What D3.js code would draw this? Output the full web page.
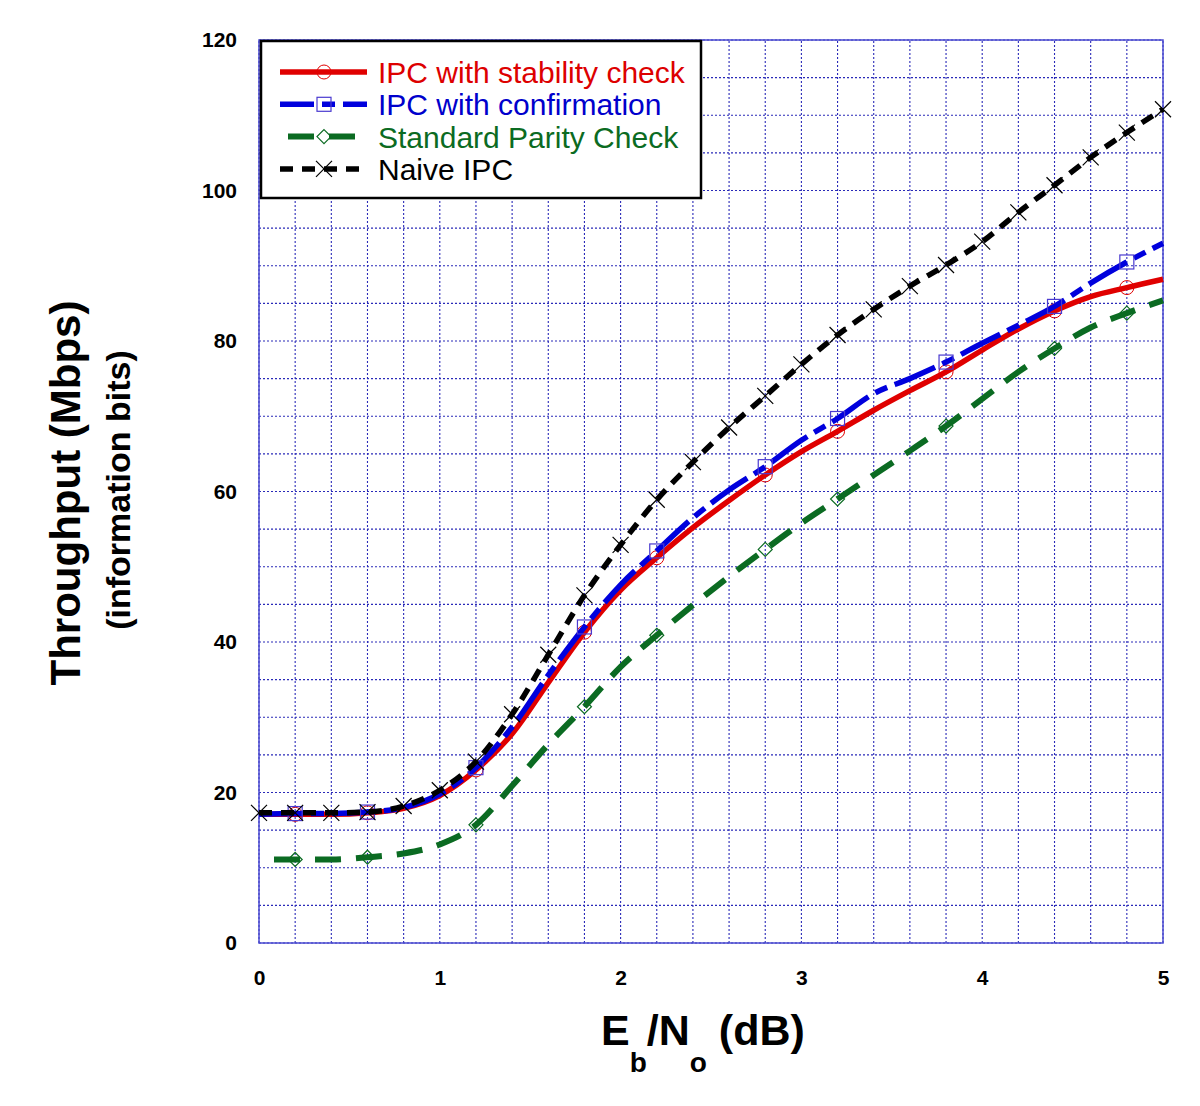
<!DOCTYPE html>
<html><head><meta charset="utf-8">
<script src="https://cdn.jsdelivr.net/npm/d3@7"></script>
<style>body{margin:0;background:#fff}svg{display:block}text{font-family:Arial,"Liberation Sans",sans-serif}</style>
</head><body>
<svg id="c" width="1200" height="1106"></svg>
<script>
const xValues = [0,0.2,0.4,0.6,0.8,1.0,1.2,1.4,1.6,1.8,2.0,2.2,2.4,2.6,2.8,3.0,3.2,3.4,3.6,3.8,4.0,4.2,4.4,4.6,4.8,5.0];
const stabilityCheck = [17.1,17.1,17.1,17.3,17.9,19.6,23.0,27.8,34.6,41.3,46.9,51.2,55.2,58.8,62.2,65.3,68.0,70.8,73.4,75.9,78.8,81.6,84.0,85.9,87.1,88.2];
const confirmation   = [17.1,17.2,17.2,17.4,18.0,19.8,23.3,28.7,35.6,42.0,47.6,52.1,56.5,60.2,63.3,66.8,69.7,73.0,75.0,77.2,79.7,82.1,84.6,87.7,90.5,93.0];
const standardParity = [11.1,11.1,11.1,11.4,11.9,13.1,15.7,20.9,26.4,31.4,36.7,40.9,44.9,48.7,52.3,55.8,59.0,62.2,65.4,68.7,72.3,75.9,79.0,81.8,83.7,85.4];
const naiveIPC       = [17.3,17.3,17.3,17.4,18.2,20.3,24.1,30.4,38.3,46.2,52.9,58.9,63.9,68.5,72.7,76.9,80.8,84.2,87.3,90.1,93.2,97.1,100.7,104.4,107.7,110.8];
const markerIdx = [1,3,6,9,11,14,16,19,22,24];
const allIdx = xValues.map((d,i)=>i);
const seriesNames = ["IPC with stability check","IPC with confirmation","Standard Parity Check","Naive IPC"];
const xTicks = [0,1,2,3,4,5];
const yTicks = [0,20,40,60,80,100,120];

const svg = d3.select("#c");
const x = d3.scaleLinear([0,5],[259,1163]);
const y = d3.scaleLinear([0,120],[943,40]);

// grid
const gridColor = "#2a2ab8";
svg.append("g").selectAll("line").data(d3.range(0,26)).join("line")
  .attr("x1",i=>x(i*0.2)).attr("x2",i=>x(i*0.2)).attr("y1",y(0)).attr("y2",y(120))
  .attr("stroke",gridColor).attr("stroke-width",1.1).attr("stroke-dasharray","2,2");
svg.append("g").selectAll("line").data(d3.range(0,25)).join("line")
  .attr("y1",i=>y(i*5)).attr("y2",i=>y(i*5)).attr("x1",x(0)).attr("x2",x(5))
  .attr("stroke",gridColor).attr("stroke-width",1.1).attr("stroke-dasharray","2,2");
// frame
svg.append("rect").attr("x",x(0)).attr("y",y(120)).attr("width",x(5)-x(0)).attr("height",y(0)-y(120))
  .attr("fill","none").attr("stroke","#4a4ad0").attr("stroke-width",1.5);

// axes
const ya = svg.append("g").attr("transform",`translate(${x(0)},0)`)
  .call(d3.axisLeft(y).tickValues(yTicks).tickFormat(d3.format("d")).tickSize(0).tickPadding(22));
const xa = svg.append("g").attr("transform",`translate(0,${y(0)})`)
  .call(d3.axisBottom(x).tickValues(xTicks).tickFormat(d3.format("d")).tickSize(0).tickPadding(27));
[ya,xa].forEach(a=>{a.select(".domain").remove();a.selectAll("text").attr("font-size",21).attr("font-weight","bold").attr("fill","#000").style("font-family","Arial, 'Liberation Sans', sans-serif");});

// series
const series = [
  {name:seriesNames[2], vals:standardParity, color:"#0b6b22", width:6, dash:"26,15", offset:26, marker:"diamond", mcolor:"#0b6b22", idx:markerIdx},
  {name:seriesNames[0], vals:stabilityCheck, color:"#e00000", width:5.5, dash:null, marker:"circle", mcolor:"#e00000", idx:markerIdx},
  {name:seriesNames[1], vals:confirmation, color:"#0000dd", width:5.5, dash:"44,8,13,8", offset:0, marker:"square", mcolor:"#4a3ad0", idx:markerIdx},
  {name:seriesNames[3], vals:naiveIPC, color:"#000000", width:5.5, dash:"13,9", offset:0, marker:"x", mcolor:"#000", idx:allIdx}
];
const line = d3.line().x((d,i)=>x(xValues[i])).y(d=>y(d)).curve(d3.curveMonotoneX);

function drawMarker(g, type, cx, cy, col){
  if(type==="circle") g.append("circle").attr("cx",cx).attr("cy",cy).attr("r",7).attr("fill","none").attr("stroke",col).attr("stroke-width",1);
  else if(type==="square") g.append("rect").attr("x",cx-7).attr("y",cy-7).attr("width",14).attr("height",14).attr("fill","none").attr("stroke",col).attr("stroke-width",1.2);
  else if(type==="diamond") g.append("path").attr("d",`M${cx},${cy-7}L${cx+7},${cy}L${cx},${cy+7}L${cx-7},${cy}Z`).attr("fill","none").attr("stroke",col).attr("stroke-width",1.2);
  else if(type==="x"){ g.append("path").attr("d",`M${cx-8},${cy-8}L${cx+8},${cy+8}M${cx-8},${cy+8}L${cx+8},${cy-8}`).attr("stroke",col).attr("stroke-width",1.2); }
}

series.forEach(s=>{
  const g = svg.append("g");
  const p = g.append("path").attr("d",line(s.vals)).attr("fill","none").attr("stroke",s.color).attr("stroke-width",s.width).attr("stroke-linejoin","round");
  if(s.dash){p.attr("stroke-dasharray",s.dash).attr("stroke-dashoffset",s.offset);}
  s.idx.forEach(i=>drawMarker(g,s.marker,x(xValues[i]),y(s.vals[i]),s.mcolor));
});

// legend
const lg = svg.append("g");
lg.append("rect").attr("x",261).attr("y",41).attr("width",440).attr("height",157).attr("fill","#fff").attr("stroke","#000").attr("stroke-width",2.5);
const legendOrder = [series[1],series[2],series[0],series[3]];
const textColors = ["#dd0000","#0000cc","#0b6b22","#000"];
legendOrder.forEach((s,k)=>{
  const ly = 72 + k*32.3;
  const p = lg.append("line").attr("x1",280).attr("x2",367).attr("y1",ly).attr("y2",ly).attr("stroke",s.color).attr("stroke-width",s.width);
  if(s.dash){ p.attr("stroke-dasharray",s.dash).attr("stroke-dashoffset", k===1? 10 : (k===2? 33: 0)); }
  drawMarker(lg,s.marker,324,ly,s.mcolor);
  lg.append("text").attr("x",378).attr("y",ly+11).attr("font-size",30).attr("fill",textColors[k]).text(s.name);
});

// axis titles
svg.append("text").attr("transform","translate(80,493) rotate(-90)").attr("text-anchor","middle")
  .attr("font-size",42).attr("font-weight","bold").text("Throughput (Mbps)");
svg.append("text").attr("transform","translate(130,490) rotate(-90)").attr("text-anchor","middle")
  .attr("font-size",34).attr("font-weight","bold").text("(information bits)");
const xt = svg.append("text").attr("x",601).attr("y",1045).attr("font-size",43).attr("font-weight","bold");
xt.append("tspan").text("E");
xt.append("tspan").attr("font-size",28).attr("dy",27).text("b");
xt.append("tspan").attr("dy",-27).text("/N");
xt.append("tspan").attr("font-size",28).attr("dy",27).text("o");
xt.append("tspan").attr("dy",-27).text(" (dB)");
</script>
</body></html>
